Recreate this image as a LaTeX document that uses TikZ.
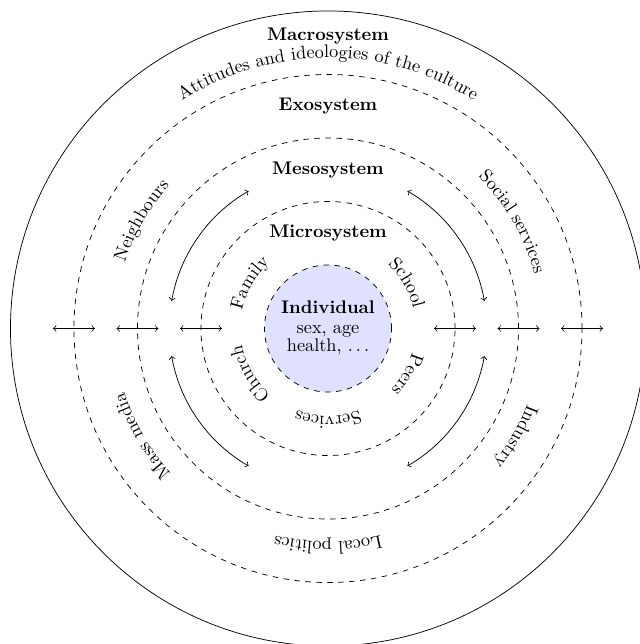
\documentclass[tikz,border=0pt]{standalone}
\usepackage{tikz}
\usetikzlibrary{decorations.text}

\begin{document}
\begin{tikzpicture}[x=1.22cm,y=1.22cm]
    \tikzstyle{every node}+=[inner sep=0pt]
    \tikzstyle{ring}=[black,dashed]
    \tikzstyle{systitle}=[font=\bfseries]
    \tikzstyle{linkarc}=[<->,black]
    \useasboundingbox (-5.165,-4.968) rectangle (4.913,5.173);
    \draw [black] (0,0) circle (5);
    \draw [ring] (0,0) circle (4);
    \draw [ring] (0,0) circle (3);
    \draw [ring] (0,0) circle (2);
    \draw [ring, fill=blue!12] (0,0) circle (1);
    \node [systitle] (macro) at (0,4.6) {Macrosystem};
    \node [systitle] (exo) at (0,3.5) {Exosystem};
    \node [systitle] (meso) at (0,2.5) {Mesosystem};
    \node [systitle] (micro) at (0,1.5) {Microsystem};
    \node [align=center] (indiv) at (0,0.01) {\textbf{Individual}\\[-1pt] sex, age\\[-2pt] health, $\ldots$};
    \path [decorate, decoration={text along path, text align=center, text={Attitudes and ideologies of the culture}}] (150:4.26) arc (150:30:4.26);
    \path [decorate, decoration={text along path, text align=center, text={Neighbours}}] (190:3.36) arc (190:110:3.36);
    \path [decorate, decoration={text along path, text align=center, text={Social services}}] (70:3.36) arc (70:-10:3.36);
    \path [decorate, decoration={text along path, text align=center, text={Industry}}] (10:3.36) arc (10:-70:3.36);
    \path [decorate, decoration={text along path, text align=center, text={Local politics}}] (-50:3.36) arc (-50:-130:3.36);
    \path [decorate, decoration={text along path, text align=center, text={Mass media}}] (-110:3.36) arc (-110:-190:3.36);
    \path [decorate, decoration={text along path, text align=center, text={Family}}] (190:1.38) arc (190:110:1.38);
    \path [decorate, decoration={text along path, text align=center, text={School}}] (70:1.38) arc (70:-10:1.38);
    \path [decorate, decoration={text along path, text align=center, text={Peers}}] (10:1.38) arc (10:-70:1.38);
    \path [decorate, decoration={text along path, text align=center, text={Services}}] (-50:1.38) arc (-50:-130:1.38);
    \path [decorate, decoration={text along path, text align=center, text={Church}}] (-110:1.38) arc (-110:-190:1.38);
    \draw [linkarc] (120:2.5) arc (120:170:2.5);
    \draw [linkarc] (60:2.5) arc (60:10:2.5);
    \draw [linkarc] (-120:2.5) arc (-120:-170:2.5);
    \draw [linkarc] (-60:2.5) arc (-60:-10:2.5);
    \foreach \r in {2,3,4} {
        \draw [<->] (-\r-0.33,0) -- (-\r+0.33,0);
        \draw [<->] (\r-0.33,0) -- (\r+0.33,0);
    }
\end{tikzpicture}
\end{document}
